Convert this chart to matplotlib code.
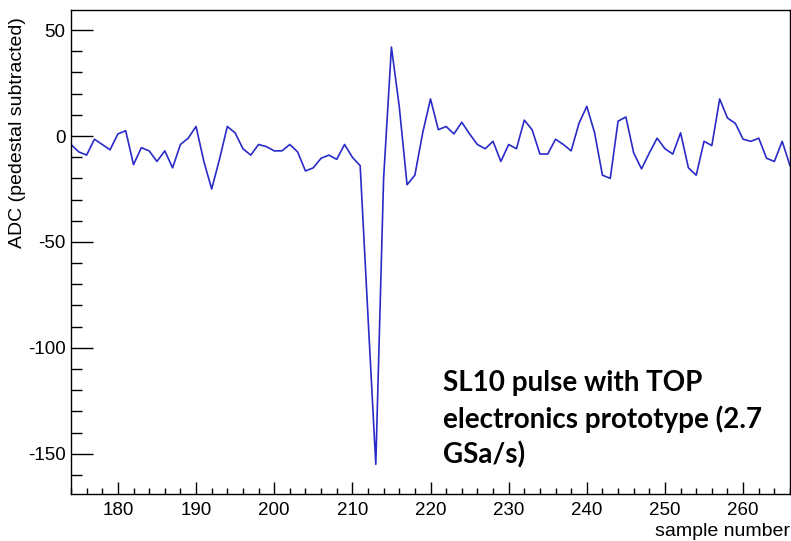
import matplotlib

matplotlib.use("Agg")
import matplotlib.pyplot as plt  # noqa: E402
from matplotlib.ticker import MultipleLocator  # noqa: E402

# sample numbers and pedestal-subtracted ADC values
sample_start = 174
adc = [
    -4, -7.5, -9, -1.5, -4, -6.5, 1, 2.5, -13.5, -5.5,          # 174-183
    -7, -12, -7, -15, -4, -1, 4.5, -12, -25, -11,               # 184-193
    4.5, 1.5, -6, -9, -4, -5, -7, -7, -4, -7.5,                 # 194-203
    -16.5, -15, -10.5, -9, -11, -4, -10, -14, -85, -155,        # 204-213
    -20, 42, 14, -23, -18.5, 1.5, 17.5, 3, 4.5, 1,              # 214-223
    6.5, 1, -4, -6, -2.5, -12, -4, -6, 7.5, 3,                  # 224-233
    -8.5, -8.5, -1.5, -4, -7, 6, 14, 1.5, -18.5, -20,           # 234-243
    7, 9, -8, -15.5, -8, -1, -6, -8.5, 1.5, -15,                # 244-253
    -18.5, -2.5, -4.5, 17.5, 8.5, 6, -1.5, -2.5, -1, -10.5,     # 254-263
    -12, -2.5, -14,                                             # 264-266
]
samples = list(range(sample_start, sample_start + len(adc)))

x_range = (174, 266)
y_range = (-169, 59.5)
x_label = "sample number"
y_label = "ADC (pedestal subtracted)"
note = "SL10 pulse with TOP\nelectronics prototype (2.7\nGSa/s)"

plt.rcParams["font.family"] = ["Liberation Sans", "DejaVu Sans"]
plt.rcParams["axes.unicode_minus"] = False  # ROOT prints a plain hyphen

fig = plt.figure(figsize=(7.91, 5.41), dpi=100)
ax = fig.add_axes([71 / 791, 1 - 494 / 541, 719 / 791, 484 / 541])

ax.plot(samples, adc, color="#2a2ac8", linewidth=1.2)

ax.set_xlim(*x_range)
ax.set_ylim(*y_range)

ax.xaxis.set_major_locator(MultipleLocator(10))
ax.xaxis.set_minor_locator(MultipleLocator(2))
ax.yaxis.set_major_locator(MultipleLocator(50))
ax.yaxis.set_minor_locator(MultipleLocator(10))

# ROOT style: ticks inside, only on the bottom and left
ax.tick_params(axis="x", which="major", direction="in", length=8.6, width=1,
               labelsize=13.5, pad=6)
ax.tick_params(axis="x", which="minor", direction="in", length=4.3, width=1)
ax.tick_params(axis="y", which="major", direction="in", length=15.8, width=1,
               labelsize=13.5, pad=4)
ax.tick_params(axis="y", which="minor", direction="in", length=7.9, width=1)
for sp in ax.spines.values():
    sp.set_linewidth(1.0)

ax.set_xlabel(x_label, loc="right", fontsize=14, labelpad=3)
ax.set_ylabel(y_label, loc="top", fontsize=14)
ax.yaxis.set_label_coords(-0.062, 0.985)

fig.text(443 / 791, 1 - 370 / 541, note, fontsize=20, fontweight="bold",
         family=["Lato", "DejaVu Sans"], va="top", ha="left", linespacing=1.4)

fig.savefig("out.png", dpi=100)
